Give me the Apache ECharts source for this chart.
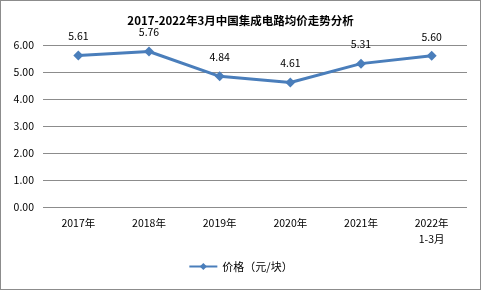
<!DOCTYPE html>
<html><head><meta charset="utf-8">
<script src="https://cdn.jsdelivr.net/npm/echarts@6/dist/echarts.min.js"></script>
<style>html,body{margin:0;padding:0;background:#fff;}#c{width:479px;height:288px;border:1px solid #8c8c8c;}</style>
</head><body><div id="c"></div>
<script>
const categories = ['2017年','2018年','2019年','2020年','2021年','2022年\n1-3月'];
const prices = [5.61, 5.76, 4.84, 4.61, 5.31, 5.60];
const yTicks = {min: 0, max: 6, interval: 1};
const seriesName = '价格（元/块）';
const titleText = '2017-2022年3月中国集成电路均价走势分析';

const chart = echarts.init(document.getElementById('c'), null, {renderer: 'canvas'});
const font = '"Noto Sans CJK SC", "Microsoft YaHei", sans-serif';
chart.setOption({
  animation: false,
  title: {text: titleText, left: 'center', top: 9, textStyle: {fontSize: 11.5, fontWeight: 'bold', color: '#000', fontFamily: font}},
  grid: {left: 42, right: 13, top: 44, bottom: 82},
  legend: {bottom: 12, left: 'center', itemWidth: 28, itemHeight: 9, textStyle: {fontSize: 11, color: '#000', fontFamily: font}, data: [seriesName]},
  xAxis: {type: 'category', data: categories, boundaryGap: true,
    axisLine: {show: false}, axisTick: {show: false},
    axisLabel: {fontSize: 10.5, color: '#000', fontFamily: font, margin: 8, lineHeight: 16}},
  yAxis: {type: 'value', min: yTicks.min, max: yTicks.max, interval: yTicks.interval,
    axisLine: {show: false}, axisTick: {show: false},
    splitLine: {lineStyle: {color: '#8c8c8c', width: 1}},
    axisLabel: {fontSize: 10.5, color: '#000', fontFamily: font, margin: 9, formatter: v => v.toFixed(2)}},
  series: [{name: seriesName, type: 'line', data: prices, symbol: 'diamond', symbolSize: 10,
    lineStyle: {color: '#4a7ebb', width: 3}, itemStyle: {color: '#4a7ebb'},
    label: {show: true, position: 'top', distance: 9, fontSize: 10.5, color: '#000', fontFamily: font, formatter: p => p.value.toFixed(2)}}]
});
</script></body></html>
